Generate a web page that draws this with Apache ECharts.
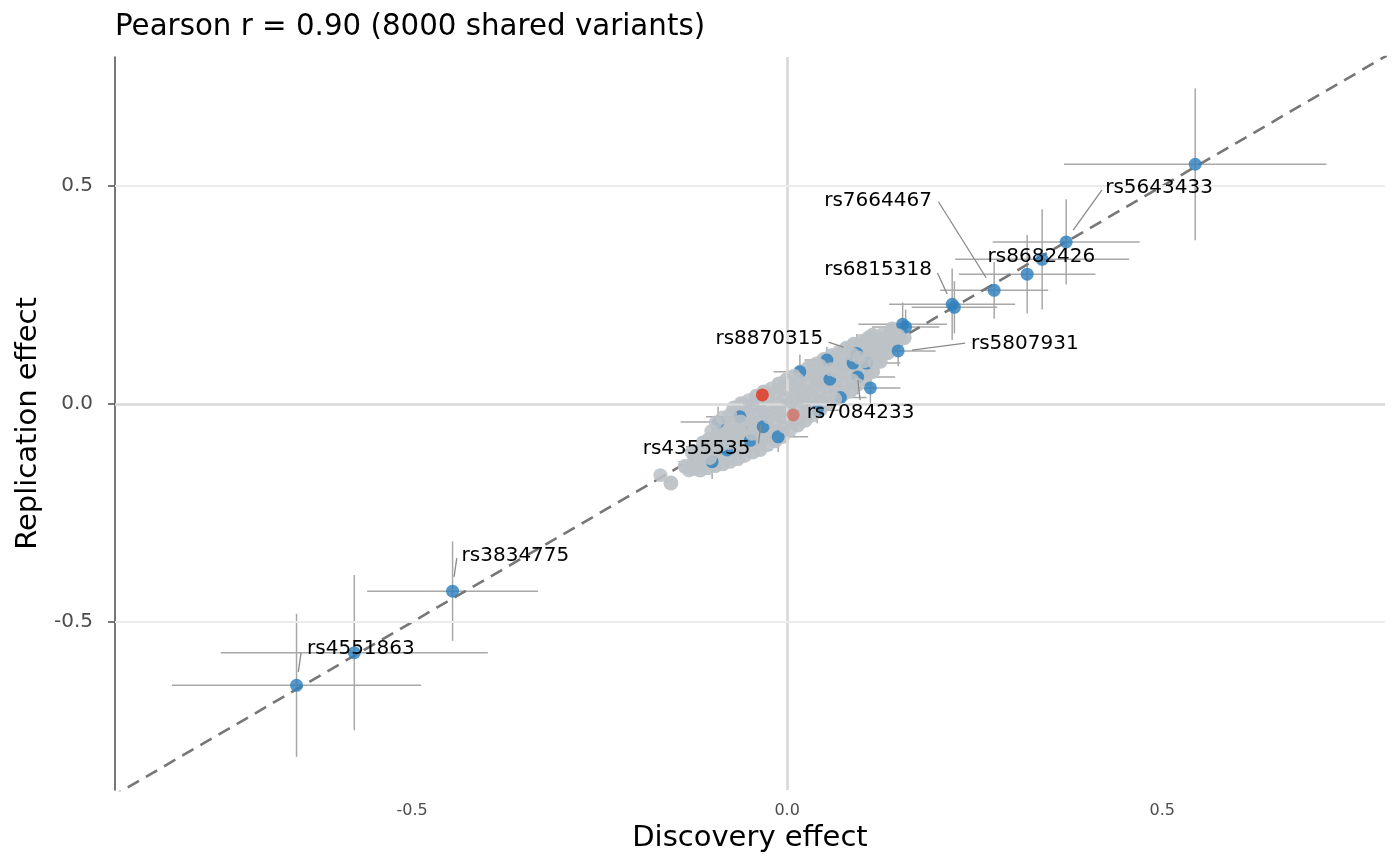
<!DOCTYPE html>
<html>
<head>
<meta charset="utf-8">
<title>Discovery vs replication</title>
<script src="https://cdn.jsdelivr.net/npm/echarts@6/dist/echarts.min.js"></script>
<style>
  html, body { margin: 0; padding: 0; background: #fff; }
  #main { width: 1400px; height: 866px; }
</style>
</head>
<body>
<div id="main"></div>
<script>
// axis ticks + ranges
var xTicks = [-0.5, 0, 0.5];
var yTicks = [-0.5, 0, 0.5];
var xRange = [-0.896, 0.797];
var yRange = [-0.885, 0.796];
var refLine = [[-1, -1], [1, 1]];

// all shared variants (grey cloud)
var greyPts = [
  [-0.169, -0.163], [-0.155, -0.181],
  [-0.136, -0.143], [-0.131, -0.152],
  [-0.126, -0.148], [-0.123, -0.127], [-0.127, -0.111],
  [-0.116, -0.151], [-0.113, -0.131], [-0.117, -0.109], [-0.112, -0.089],
  [-0.106, -0.146], [-0.103, -0.124], [-0.107, -0.102], [-0.104, -0.081], [-0.101, -0.062],
  [-0.096, -0.141], [-0.093, -0.119], [-0.097, -0.097], [-0.094, -0.075], [-0.092, -0.054], [-0.095, -0.042],
  [-0.086, -0.137], [-0.083, -0.115], [-0.087, -0.093], [-0.084, -0.071], [-0.082, -0.050], [-0.086, -0.031],
  [-0.076, -0.131], [-0.073, -0.110], [-0.077, -0.089], [-0.074, -0.067], [-0.072, -0.046], [-0.076, -0.024], [-0.071, -0.009],
  [-0.066, -0.125], [-0.063, -0.104], [-0.067, -0.083], [-0.064, -0.061], [-0.062, -0.040], [-0.066, -0.018], [-0.061, 0.001],
  [-0.056, -0.118], [-0.053, -0.097], [-0.057, -0.076], [-0.054, -0.055], [-0.052, -0.033], [-0.056, -0.012], [-0.051, 0.009],
  [-0.046, -0.110], [-0.043, -0.090], [-0.047, -0.068], [-0.044, -0.046], [-0.042, -0.025], [-0.046, -0.004], [-0.041, 0.018],
  [-0.036, -0.104], [-0.033, -0.083], [-0.037, -0.061], [-0.034, -0.040], [-0.032, -0.018], [-0.036, 0.004], [-0.031, 0.028],
  [-0.026, -0.094], [-0.023, -0.073], [-0.027, -0.051], [-0.024, -0.030], [-0.022, -0.008], [-0.026, 0.014], [-0.021, 0.036],
  [-0.016, -0.084], [-0.013, -0.062], [-0.017, -0.040], [-0.014, -0.019], [-0.012, 0.003], [-0.016, 0.025], [-0.011, 0.046],
  [-0.006, -0.074], [-0.003, -0.052], [-0.007, -0.030], [-0.004, -0.008], [-0.002, 0.014], [-0.006, 0.035], [-0.001, 0.055],
  [0.004, -0.060], [0.007, -0.040], [0.003, -0.018], [0.006, 0.004], [0.008, 0.025], [0.004, 0.046], [0.009, 0.065],
  [0.014, -0.048], [0.017, -0.028], [0.013, -0.006], [0.016, 0.015], [0.018, 0.036], [0.014, 0.056], [0.019, 0.074],
  [0.024, -0.037], [0.027, -0.016], [0.023, 0.005], [0.026, 0.026], [0.028, 0.047], [0.024, 0.067], [0.029, 0.084],
  [0.034, -0.026], [0.037, -0.005], [0.033, 0.016], [0.036, 0.037], [0.038, 0.058], [0.034, 0.077], [0.039, 0.093],
  [0.044, -0.012], [0.047, 0.008], [0.043, 0.028], [0.046, 0.049], [0.048, 0.070], [0.044, 0.088], [0.049, 0.102],
  [0.054, 0.002], [0.057, 0.022], [0.053, 0.040], [0.056, 0.060], [0.058, 0.080], [0.054, 0.098], [0.059, 0.111],
  [0.064, 0.012], [0.067, 0.033], [0.063, 0.055], [0.066, 0.075], [0.068, 0.094], [0.064, 0.108], [0.069, 0.120],
  [0.074, 0.022], [0.077, 0.044], [0.073, 0.066], [0.076, 0.086], [0.078, 0.104], [0.074, 0.118], [0.079, 0.128],
  [0.084, 0.030], [0.087, 0.054], [0.083, 0.076], [0.086, 0.096], [0.088, 0.113], [0.084, 0.126], [0.089, 0.137],
  [0.094, 0.044], [0.097, 0.067], [0.093, 0.087], [0.096, 0.106], [0.098, 0.122], [0.094, 0.134], [0.099, 0.145],
  [0.104, 0.058], [0.107, 0.078], [0.103, 0.098], [0.106, 0.116], [0.108, 0.131], [0.104, 0.143], [0.109, 0.152],
  [0.114, 0.075], [0.117, 0.094], [0.113, 0.113], [0.116, 0.130], [0.118, 0.146], [0.114, 0.158],
  [0.124, 0.098], [0.127, 0.116], [0.123, 0.133], [0.126, 0.149], [0.128, 0.162],
  [0.134, 0.118], [0.137, 0.136], [0.133, 0.152], [0.138, 0.165],
  [0.144, 0.140], [0.148, 0.158], [0.140, 0.172], [0.156, 0.152]
];

// significant hits: [discovery, replication, se discovery, se replication]
var blueHits = [
  [0.544, 0.550, 0.175, 0.174],
  [0.372, 0.372, 0.098, 0.098],
  [0.340, 0.332, 0.116, 0.115],
  [0.320, 0.298, 0.091, 0.090],
  [0.276, 0.261, 0.072, 0.065],
  [0.220, 0.229, 0.084, 0.082],
  [0.223, 0.222, 0.057, 0.060],
  [0.154, 0.183, 0.059, 0.050],
  [0.158, 0.177, 0.045, 0.040],
  [0.148, 0.122, 0.050, 0.035],
  [-0.446, -0.429, 0.114, 0.114],
  [-0.577, -0.570, 0.178, 0.178],
  [-0.654, -0.645, 0.166, 0.164],
  [0.093, 0.116, 0.035, 0.045],
  [0.088, 0.094, 0.040, 0.040],
  [0.106, 0.094, 0.045, 0.040],
  [0.057, 0.057, 0.040, 0.035],
  [0.017, 0.074, 0.035, 0.040],
  [0.053, 0.101, 0.030, 0.030],
  [0.111, 0.037, 0.040, 0.040],
  [0.071, 0.015, 0.035, 0.035],
  [0.094, 0.062, 0.050, 0.040],
  [-0.032, -0.052, 0.040, 0.045],
  [-0.063, -0.029, 0.045, 0.040],
  [-0.012, -0.075, 0.040, 0.035],
  [-0.085, -0.098, 0.050, 0.040],
  [-0.049, -0.083, 0.040, 0.035],
  [-0.100, -0.132, 0.045, 0.040],
  [-0.080, -0.105, 0.060, 0.040],
  [0.040, -0.014, 0.030, 0.030],
  [-0.092, -0.041, 0.050, 0.035]
];

// opposite-direction hits
var redHits = [[-0.033, 0.021], [0.008, -0.025]];

// labelled variants: name, text anchor, side of anchor, leader segment
var labelNames = ['rs5643433', 'rs7664467', 'rs8682426', 'rs6815318', 'rs8870315',
                  'rs5807931', 'rs7084233', 'rs4355535', 'rs3834775', 'rs4551863'];
var labelAnchor = [[0.424, 0.496], [0.193, 0.466], [0.339, 0.338], [0.193, 0.308], [0.048, 0.149],
                   [0.245, 0.138], [0.026, -0.020], [-0.049, -0.103], [-0.434, -0.348], [-0.640, -0.562]];
var labelAlign = ['left', 'right', 'center', 'right', 'right', 'left', 'left', 'right', 'left', 'left'];
var leaders = [
  [[0.4195, 0.4908], [0.3813, 0.3991]],
  [[0.2017, 0.4640], [0.2653, 0.2897]],
  null,
  [[0.2004, 0.3005], [0.2133, 0.2523]],
  [[0.0551, 0.1422], [0.0751, 0.1307]],
  [[0.1663, 0.1239], [0.2373, 0.1399]],
  [[0.0943, 0.0550], [0.0973, 0.0092]],
  [[-0.0382, -0.0902], [-0.0351, -0.0482]],
  [[-0.4404, -0.3532], [-0.4440, -0.3961]],
  [[-0.6480, -0.5704], [-0.6516, -0.6140]]
];

var FONT = 'DejaVu Sans';
var GREY = '#bcc2c6';

var myChart = echarts.init(document.getElementById('main'));

// grid: horizontal lines at every y tick, only the zero line vertically
var gridLines = [{ xAxis: 0, lineStyle: { color: '#d9d9d9', width: 2.7 } }];
yTicks.forEach(function (v) {
  gridLines.push({ yAxis: v, lineStyle: v === 0 ? { color: '#d9d9d9', width: 2.7 } : { color: '#ebebeb', width: 2 } });
});

var errStyle = { stroke: '#a8a8a8', lineWidth: 1.5 };

var leaderData = [];
leaders.forEach(function (seg) {
  if (seg) leaderData.push({ coords: seg });
});

// x, y, index into labelNames
var labelData = labelAnchor.map(function (p, i) { return [p[0], p[1], i]; });

// the second red one sits half under the cloud
var redData = redHits.map(function (p, i) {
  return { value: p, itemStyle: { opacity: i === 1 ? 0.5 : 0.9 } };
});

var option = {
  animation: false,
  backgroundColor: '#ffffff',
  title: {
    text: 'Pearson r = 0.90 (8000 shared variants)',
    left: 115,
    top: 13,
    padding: 0,
    textStyle: { fontFamily: FONT, fontSize: 29.3, fontWeight: 'normal', color: '#000' }
  },
  grid: { left: 115, right: 15, top: 57, bottom: 76, outerBoundsMode: 'none' },
  xAxis: {
    type: 'value',
    min: xRange[0],
    max: xRange[1],
    name: 'Discovery effect',
    nameLocation: 'middle',
    nameGap: 28,
    nameTextStyle: { fontFamily: FONT, fontSize: 29, color: '#000' },
    axisLine: { show: false, onZero: false },
    axisTick: { show: false },
    splitLine: { show: false },
    axisLabel: {
      customValues: xTicks,
      margin: 13,
      fontFamily: FONT,
      fontSize: 16,
      color: '#4d4d4d',
      formatter: function (v) { return v.toFixed(1); }
    }
  },
  yAxis: {
    type: 'value',
    min: yRange[0],
    max: yRange[1],
    name: 'Replication effect',
    nameLocation: 'middle',
    nameGap: 72,
    nameTextStyle: { fontFamily: FONT, fontSize: 29, color: '#000' },
    axisLine: { show: true, onZero: false, lineStyle: { color: '#555', width: 1.6 } },
    axisTick: { show: true, customValues: yTicks, length: 7, lineStyle: { color: '#555', width: 1.6 } },
    splitLine: { show: false },
    axisLabel: {
      customValues: yTicks,
      margin: 22,
      fontFamily: FONT,
      fontSize: 20,
      color: '#4d4d4d',
      formatter: function (v) { return v.toFixed(1); }
    }
  },
  series: [
    {
      // background grid
      type: 'line',
      data: [],
      z: 0,
      silent: true,
      markLine: {
        silent: true,
        symbol: ['none', 'none'],
        label: { show: false },
        lineStyle: { type: 'solid' },
        data: gridLines
      }
    },
    {
      // error bars
      type: 'custom',
      z: 1,
      silent: true,
      data: blueHits,
      encode: { x: 0, y: 1 },
      renderItem: function (params, api) {
        var x = api.value(0), y = api.value(1), ex = api.value(2), ey = api.value(3);
        var l = api.coord([x - ex, y]), r = api.coord([x + ex, y]);
        var t = api.coord([x, y + ey]), b = api.coord([x, y - ey]);
        return {
          type: 'group',
          children: [
            { type: 'line', shape: { x1: l[0], y1: l[1], x2: r[0], y2: r[1] }, style: errStyle },
            { type: 'line', shape: { x1: t[0], y1: t[1], x2: b[0], y2: b[1] }, style: errStyle }
          ]
        };
      }
    },
    {
      // y = x
      type: 'line',
      z: 2,
      silent: true,
      data: refLine,
      symbol: 'none',
      clip: true,
      lineStyle: { color: '#777', width: 2.6, type: [13, 8] }
    },
    {
      type: 'scatter',
      z: 3,
      silent: true,
      symbolSize: 15,
      data: greyPts.filter(function (p, i) { return i % 3 !== 0; }),
      itemStyle: { color: GREY, opacity: 0.95 }
    },
    {
      type: 'scatter',
      z: 4,
      silent: true,
      symbolSize: 13,
      data: blueHits.map(function (d) { return [d[0], d[1]]; }),
      itemStyle: { color: '#2f80bd', opacity: 0.82 }
    },
    {
      type: 'scatter',
      z: 5,
      silent: true,
      symbolSize: 14,
      data: greyPts.filter(function (p, i) { return i % 3 === 0; }),
      itemStyle: { color: GREY, opacity: 0.88 }
    },
    {
      type: 'scatter',
      z: 6,
      silent: true,
      symbolSize: 13,
      data: redData,
      itemStyle: { color: '#e0402b' }
    },
    {
      // ggrepel-style segments
      type: 'lines',
      coordinateSystem: 'cartesian2d',
      z: 7,
      silent: true,
      data: leaderData,
      lineStyle: { color: '#8a8a8a', width: 1.3, opacity: 1 }
    },
    {
      // variant labels
      type: 'custom',
      z: 8,
      silent: true,
      clip: false,
      data: labelData,
      encode: { x: 0, y: 1 },
      renderItem: function (params, api) {
        var i = api.value(2);
        var p = api.coord([api.value(0), api.value(1)]);
        return {
          type: 'text',
          x: p[0],
          y: p[1],
          style: {
            text: labelNames[i],
            fill: '#000',
            font: '20px "DejaVu Sans"',
            align: labelAlign[i],
            verticalAlign: 'middle'
          }
        };
      }
    }
  ]
};

myChart.setOption(option);
</script>
</body>
</html>
